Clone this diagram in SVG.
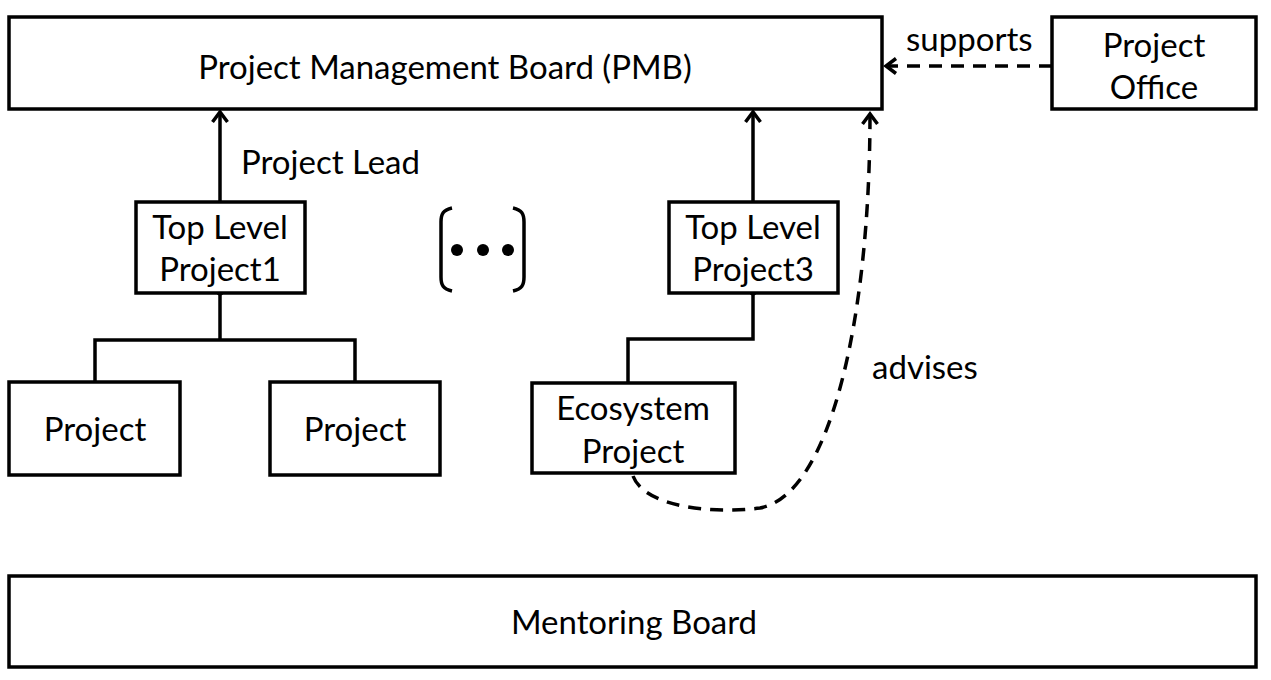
<svg xmlns="http://www.w3.org/2000/svg" width="1271" height="680" viewBox="0 0 1271 680">
<style>
.box{fill:#fff;stroke:#000;stroke-width:3.5}
.t{font-family:Lato,"Open Sans",sans-serif;font-size:33px;fill:#000;text-anchor:middle}
.l{font-family:Lato,"Open Sans",sans-serif;font-size:33px;fill:#000}
.ln{fill:none;stroke:#000;stroke-width:3.5}
.dash{fill:none;stroke:#000;stroke-width:3.5;stroke-dasharray:13 9}
</style>
<defs>
<marker id="arr" markerWidth="18" markerHeight="18" refX="14" refY="9" orient="auto" markerUnits="userSpaceOnUse" viewBox="0 0 18 18">
<path d="M4,1.5 L14,9 L4,16.5" fill="none" stroke="#000" stroke-width="3.5" stroke-linejoin="miter"/>
</marker>
</defs>
<rect width="1271" height="680" fill="#fff"/>
<g id="connectors">
<path class="ln" d="M220,202 V112" marker-end="url(#arr)"/>
<path class="ln" d="M753,202 V112" marker-end="url(#arr)"/>
<path class="ln" d="M220,293 V340 M95,382 V340 H355 V382"/>
<path class="ln" d="M753,293 V339 H628 V383"/>
<circle cx="220" cy="292" r="3.5"/>
<circle cx="753" cy="292" r="3.5"/>
<path class="dash" d="M1052,66 H886" marker-end="url(#arr)"/>
<path class="dash" d="M633,476 C645,508 715,514 760,508 C830,495 870,320 870,114" marker-end="url(#arr)"/>
<text class="l" x="906" y="51">supports</text>
<text class="l" x="241" y="174">Project Lead</text>
<text class="l" x="872" y="379">advises</text>
</g>
<g id="pmb"><rect class="box" x="9" y="17" width="873" height="92"/><text class="t" x="445" y="79">Project Management Board (PMB)</text></g>
<g id="office"><rect class="box" x="1052" y="17" width="204" height="92"/><text class="t" x="1154" y="57">Project</text><text class="t" x="1154" y="99">Office</text></g>
<g id="tlp1"><rect class="box" x="136" y="202" width="169" height="91"/><text class="t" x="220" y="239">Top Level</text><text class="t" x="220" y="281">Project1</text></g>
<g id="tlp3"><rect class="box" x="669" y="202" width="169" height="91"/><text class="t" x="753" y="239">Top Level</text><text class="t" x="753" y="281">Project3</text></g>
<g id="proj1"><rect class="box" x="9" y="382" width="171" height="93"/><text class="t" x="95" y="441">Project</text></g>
<g id="proj2"><rect class="box" x="270" y="382" width="170" height="93"/><text class="t" x="355" y="441">Project</text></g>
<g id="eco"><rect class="box" x="532" y="383" width="203" height="90"/><text class="t" x="633" y="420">Ecosystem</text><text class="t" x="633" y="463">Project</text></g>
<g id="ellipsis">
<path class="ln" d="M452,208 C443,210 441,214 441,222 V277 C441,285 443,289 452,291"/>
<path class="ln" d="M513,208 C522,210 524,214 524,222 V277 C524,285 522,289 513,291"/>
<circle cx="457" cy="250" r="6"/><circle cx="483" cy="250" r="6"/><circle cx="508" cy="250" r="6"/>
</g>
<g id="mentoring"><rect class="box" x="9" y="576" width="1247" height="91"/><text class="t" x="634" y="634">Mentoring Board</text></g>
</svg>
